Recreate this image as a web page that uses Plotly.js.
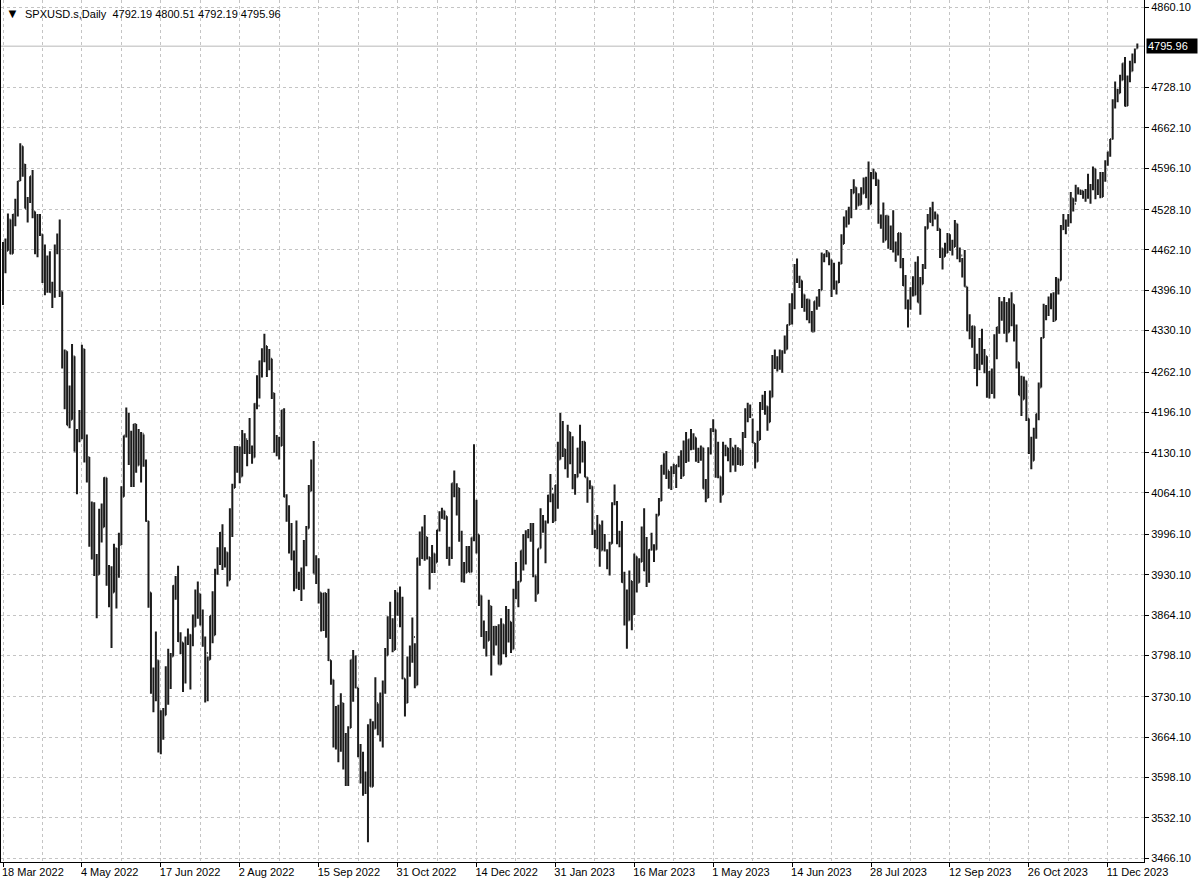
<!DOCTYPE html>
<html>
<head>
<meta charset="utf-8">
<script src="https://cdn.plot.ly/plotly-3.0.1.min.js"></script>
<style>html,body{margin:0;padding:0;background:#fff}#chart{width:1200px;height:888px}</style>
</head>
<body>
<div id="chart"></div>
<script>
// ---- calendar of the daily bars (weekdays, minus days with no session) ----
const firstDay = '2022-03-18';
const lastDay = '2023-12-28';
const closedDays = ['2022-04-15', '2022-12-26', '2023-01-02', '2023-12-25'];

// ---- OHLC values, one entry per bar, month by month ----
const open = [
// 2022-03
4407,4463,4461,4512,4456,4520,4543,4575,4632,4602,
// 2022-04
4530,4546,4583,4525,4481,4500,4488,4413,4397,4447,4393,4392,4463,4459,4394,4272,4296,4175,4184,4288,
// 2022-05
4132,4155,4175,4300,4147,4123,3991,4001,3935,3930,4024,4008,4089,3923,3901,3901,3974,3941,3979,4058,4158,4190,
// 2022-06
4132,4101,4177,4109,4121,4161,4116,4018,3901,3750,3735,3790,3667,3675,3700,3765,3760,3796,3912,3900,3821,3819,
// 2022-07
3785,3825,3832,3831,3845,3903,3899,3855,3819,3802,3791,3863,3831,3937,3960,3999,3962,3967,3921,4024,4072,
// 2022-08
4130,4119,4091,4155,4152,4145,4140,4122,4210,4207,4280,4297,4305,4275,4284,4228,4138,4128,4141,4200,4058,4031,3986,
// 2022-09
3955,3967,3924,3915,3908,3980,4006,4067,4110,3932,3946,3901,3873,3900,3856,3790,3758,3693,3655,3647,3720,3640,
// 2022-10
3586,3679,3791,3783,3745,3640,3612,3589,3577,3670,3583,3678,3720,3695,3666,3753,3798,3859,3831,3807,3901,
// 2022-11
3872,3856,3760,3720,3771,3807,3828,3749,3957,3993,3957,3992,3959,3947,3965,3950,4003,4027,4035,4026,3964,3958,
// 2022-12
4080,4077,4072,3999,3941,3933,3964,3934,3991,4019,3996,3896,3852,3818,3822,3879,3822,3845,3829,3783,3849,
// 2023-01
3840,3825,3853,3808,3895,3893,3919,3970,3983,3999,3998,3991,3929,3899,3973,4020,4017,4016,4060,4071,4018,
// 2023-02
4077,4119,4180,4136,4111,4164,4118,4082,4090,4137,4136,4148,4090,4079,4075,3997,3991,4012,3970,3982,
// 2023-03
3970,3951,3981,4046,4048,3986,3992,3918,3862,3855,3920,3892,3960,3917,3951,4003,3937,3949,3971,3977,3971,4027,4051,
// 2023-04
4109,4125,4101,4091,4105,4108,4110,4109,4092,4146,4138,4152,4154,4155,4130,4134,4138,4071,4056,4136,
// 2023-05
4169,4168,4120,4091,4061,4136,4138,4119,4138,4130,4124,4136,4110,4159,4198,4191,4192,4146,4115,4151,4205,4218,4206,
// 2023-06
4180,4221,4282,4273,4283,4268,4294,4299,4339,4369,4373,4426,4410,4412,4389,4366,4381,4348,4328,4378,4377,4396,
// 2023-07
4450,4455,4458,4446,4412,4399,4409,4439,4472,4510,4505,4522,4555,4565,4535,4536,4554,4567,4566,4537,4582,
// 2023-08
4589,4577,4513,4502,4478,4518,4499,4468,4469,4464,4490,4437,4404,4370,4370,4400,4388,4436,4376,4406,4433,4497,4515,
// 2023-09
4508,4516,4520,4497,4465,4451,4457,4488,4462,4467,4505,4450,4453,4444,4402,4330,4320,4337,4274,4274,4300,
// 2023-10
4288,4288,4229,4263,4258,4308,4336,4358,4376,4349,4327,4374,4373,4314,4278,4224,4217,4248,4186,4137,4117,4166,
// 2023-11
4194,4237,4318,4358,4366,4378,4383,4347,4415,4412,4496,4503,4508,4514,4547,4538,4557,4560,4559,4550,4554,4551,
// 2023-12
4568,4595,4569,4567,4549,4585,4604,4622,4644,4707,4719,4719,4740,4768,4698,4746,4755,4775,4792.19
];

const high = [
// 2022-03
4475,4481,4522,4512,4521,4546,4575,4637,4632,4603,
// 2022-04
4549,4583,4593,4525,4521,4521,4488,4471,4453,4460,4410,4471,4489,4512,4394,4299,4296,4240,4308,4288,
// 2022-05
4169,4200,4307,4300,4160,4123,4050,4049,3964,4038,4047,4090,4089,3946,3944,3981,3974,3999,4075,4158,4204,4195,
// 2022-06
4166,4177,4177,4169,4164,4160,4119,4018,3901,3778,3837,3790,3708,3712,3780,3809,3802,3913,3928,3945,3836,3819,
// 2022-07
3829,3842,3832,3865,3906,3919,3899,3873,3829,3796,3863,3903,3940,3975,4000,4013,3975,3967,4039,4079,4141,
// 2022-08
4141,4140,4167,4162,4151,4187,4142,4211,4257,4281,4301,4325,4305,4300,4284,4228,4159,4156,4200,4203,4062,4044,4015,
// 2022-09
3970,4019,3935,3942,3987,4010,4077,4119,4149,3962,3957,3901,3900,3900,3907,3790,3758,3715,3717,3736,3720,3671,
// 2022-10
3682,3791,3807,3798,3745,3653,3640,3608,3685,3694,3690,3762,3719,3737,3757,3810,3862,3886,3859,3905,3901,
// 2022-11
3911,3894,3760,3796,3814,3860,3818,3958,4001,4009,4028,3992,3959,3979,3965,4004,4034,4040,4035,4026,3976,4080,
// 2022-12
4101,4080,4072,4002,3951,3977,3977,3991,4144,4053,3996,3896,3855,3838,3889,3879,3846,3846,3849,3859,3849,
// 2023-01
3879,3874,3853,3907,3951,3920,3970,3997,4003,4005,4015,4015,3929,3973,4039,4028,4019,4061,4095,4063,4077,
// 2023-02
4148,4195,4182,4136,4176,4164,4157,4095,4138,4176,4149,4148,4090,4085,4075,4004,4028,4012,4019,3997,
// 2023-03
3972,3984,4049,4078,4051,4002,4018,3935,3906,3937,3920,3965,3960,3957,4009,4039,3992,3972,3999,3980,4030,4056,4110,
// 2023-04
4129,4133,4100,4108,4112,4110,4125,4134,4150,4164,4152,4169,4162,4155,4138,4142,4138,4087,4139,4170,
// 2023-05
4185,4168,4148,4091,4148,4143,4138,4154,4138,4143,4139,4135,4164,4203,4212,4209,4186,4146,4166,4213,4225,4231,4206,
// 2023-06
4232,4290,4299,4288,4299,4298,4322,4340,4375,4391,4439,4448,4420,4412,4389,4382,4381,4362,4378,4386,4398,4458,
// 2023-07
4456,4462,4458,4446,4441,4412,4443,4488,4517,4527,4533,4562,4578,4565,4555,4565,4581,4582,4607,4590,4595,
// 2023-08
4589,4577,4520,4540,4519,4518,4502,4527,4476,4490,4490,4449,4421,4381,4401,4419,4443,4452,4418,4439,4501,4521,4532,
// 2023-09
4541,4525,4520,4497,4465,4474,4490,4488,4479,4511,4505,4466,4449,4462,4402,4357,4338,4337,4292,4318,4333,
// 2023-10
4300,4288,4264,4268,4324,4336,4385,4378,4385,4377,4383,4393,4373,4340,4278,4256,4255,4248,4186,4156,4171,4194,
// 2023-11
4245,4319,4374,4372,4386,4391,4393,4418,4415,4503,4521,4512,4521,4557,4547,4569,4565,4560,4559,4562,4587,4570,
// 2023-12
4599,4595,4578,4590,4590,4609,4623,4644,4709,4738,4726,4749,4768,4778,4748,4772,4784,4792,4800.51
];

const low = [
// 2022-03
4372,4424,4461,4455,4456,4501,4517,4575,4582,4530,
// 2022-04
4507,4539,4514,4455,4450,4485,4408,4388,4392,4392,4367,4384,4455,4385,4268,4201,4175,4170,4184,4132,
// 2022-05
4062,4147,4152,4114,4081,3976,3955,3928,3859,3930,3983,4008,3912,3877,3810,3901,3875,3925,3979,4058,4155,4110,
// 2022-06
4074,4074,4097,4109,4081,4107,4017,3876,3735,3705,3723,3639,3636,3660,3700,3717,3743,3796,3889,3820,3800,3738,
// 2022-07
3752,3815,3742,3813,3845,3858,3847,3812,3721,3723,3791,3818,3831,3930,3946,3938,3942,3911,3921,3992,4072,
// 2022-08
4097,4080,4091,4128,4108,4128,4112,4122,4201,4219,4253,4278,4254,4265,4218,4130,4124,4119,4141,4057,4017,3965,3954,
// 2022-09
3903,3907,3905,3887,3906,3944,4006,4067,3932,3915,3883,3837,3838,3827,3789,3750,3647,3644,3623,3640,3611,3584,
// 2022-10
3584,3679,3722,3744,3631,3588,3568,3571,3492,3583,3583,3678,3667,3657,3647,3735,3798,3825,3803,3807,3863,
// 2022-11
3844,3759,3698,3720,3763,3786,3744,3749,3945,3956,3953,3955,3906,3933,3933,3950,4001,4022,4020,3956,3945,3956,
// 2022-12
4057,4027,3984,3918,3917,3933,3934,3934,3985,3965,3879,3828,3809,3796,3822,3765,3798,3814,3783,3783,3800,
// 2023-01
3795,3819,3802,3808,3890,3877,3919,3937,3947,3990,3984,3926,3886,3899,3973,3999,3949,4014,4049,4015,4018,
// 2023-02
4038,4119,4123,4103,4089,4111,4070,4061,4090,4096,4114,4090,4048,4070,3995,3974,3972,3943,3970,3968,
// 2023-03
3939,3929,3981,4044,3980,3975,3917,3847,3809,3855,3839,3864,3901,3917,3951,3936,3910,3917,3970,3951,3971,4027,4051,
// 2023-04
4094,4087,4071,4069,4095,4072,4106,4087,4092,4113,4115,4134,4135,4115,4113,4117,4071,4049,4056,4127,
// 2023-05
4164,4089,4088,4048,4061,4124,4116,4098,4109,4099,4110,4109,4110,4154,4180,4187,4146,4104,4115,4151,4200,4192,4166,
// 2023-06
4180,4221,4267,4263,4266,4261,4292,4299,4339,4340,4365,4408,4400,4367,4361,4347,4342,4328,4328,4364,4369,4396,
// 2023-07
4442,4450,4437,4385,4397,4389,4408,4439,4472,4499,4504,4514,4555,4528,4535,4536,4554,4547,4528,4537,4578,
// 2023-08
4567,4505,4497,4474,4478,4464,4462,4458,4443,4453,4432,4403,4365,4335,4364,4386,4388,4376,4356,4406,4431,4497,4507,
// 2023-09
4501,4512,4493,4449,4430,4451,4457,4461,4453,4467,4447,4442,4417,4402,4329,4316,4302,4267,4239,4265,4274,
// 2023-10
4260,4220,4219,4226,4219,4283,4325,4346,4325,4311,4327,4337,4312,4268,4224,4190,4217,4182,4128,4103,4117,4153,
// 2023-11
4183,4237,4318,4347,4354,4365,4344,4347,4389,4412,4495,4488,4500,4506,4525,4541,4553,4552,4546,4541,4546,4538,
// 2023-12
4560,4545,4552,4547,4549,4574,4600,4615,4643,4694,4704,4719,4740,4697,4698,4737,4755,4768,4792.19
];

const close = [
// 2022-03
4463,4461,4512,4456,4520,4543,4575,4632,4602,4530,
// 2022-04
4546,4583,4525,4481,4500,4488,4413,4397,4447,4393,4392,4463,4459,4394,4272,4296,4175,4184,4288,4132,
// 2022-05
4155,4175,4300,4147,4123,3991,4001,3935,3930,4024,4008,4089,3923,3901,3901,3974,3941,3979,4058,4158,4190,4132,
// 2022-06
4101,4177,4109,4121,4161,4116,4018,3901,3750,3735,3790,3667,3675,3700,3765,3760,3796,3912,3900,3821,3819,3785,
// 2022-07
3825,3832,3831,3845,3903,3899,3855,3819,3802,3791,3863,3831,3937,3960,3999,3962,3967,3921,4024,4072,4130,
// 2022-08
4119,4091,4155,4152,4145,4140,4122,4210,4207,4280,4297,4305,4275,4284,4228,4138,4128,4141,4200,4058,4031,3986,3955,
// 2022-09
3967,3924,3915,3908,3980,4006,4067,4110,3932,3946,3901,3873,3900,3856,3790,3758,3693,3655,3647,3720,3640,3586,
// 2022-10
3679,3791,3783,3745,3640,3612,3589,3577,3670,3583,3678,3720,3695,3666,3753,3798,3859,3831,3807,3901,3872,
// 2022-11
3856,3760,3720,3771,3807,3828,3749,3957,3993,3957,3992,3959,3947,3965,3950,4003,4027,4035,4026,3964,3958,4080,
// 2022-12
4077,4072,3999,3941,3933,3964,3934,3991,4019,3996,3896,3852,3818,3822,3879,3822,3845,3829,3783,3849,3840,
// 2023-01
3825,3853,3808,3895,3893,3919,3970,3983,3999,3998,3991,3929,3899,3973,4020,4017,4016,4060,4071,4018,4077,
// 2023-02
4119,4180,4136,4111,4164,4118,4082,4090,4137,4136,4148,4090,4079,4075,3997,3991,4012,3970,3982,3970,
// 2023-03
3951,3981,4046,4048,3986,3992,3918,3862,3855,3920,3892,3960,3917,3951,4003,3937,3949,3971,3977,3971,4027,4051,4109,
// 2023-04
4125,4101,4091,4105,4108,4110,4109,4092,4146,4138,4152,4154,4155,4130,4134,4138,4071,4056,4136,4169,
// 2023-05
4168,4120,4091,4061,4136,4138,4119,4138,4130,4124,4136,4110,4159,4198,4191,4192,4146,4115,4151,4205,4218,4206,4180,
// 2023-06
4221,4282,4273,4283,4268,4294,4299,4339,4369,4373,4426,4410,4412,4389,4366,4381,4348,4328,4378,4377,4396,4450,
// 2023-07
4455,4458,4446,4412,4399,4409,4439,4472,4510,4505,4522,4555,4565,4535,4536,4554,4567,4566,4537,4582,4589,
// 2023-08
4577,4513,4502,4478,4518,4499,4468,4469,4464,4490,4437,4404,4370,4370,4400,4388,4436,4376,4406,4433,4497,4515,4508,
// 2023-09
4516,4520,4497,4465,4451,4457,4488,4462,4467,4505,4450,4453,4444,4402,4330,4320,4337,4274,4274,4300,4288,
// 2023-10
4288,4229,4263,4258,4308,4336,4358,4376,4349,4327,4374,4373,4314,4278,4224,4217,4248,4186,4137,4117,4166,4194,
// 2023-11
4237,4318,4358,4366,4378,4383,4347,4415,4412,4496,4503,4508,4514,4547,4538,4557,4560,4559,4550,4554,4551,4568,
// 2023-12
4595,4569,4567,4549,4585,4604,4622,4644,4707,4719,4719,4740,4768,4698,4746,4755,4775,4790,4795.96
];

// ---- axis labels ----
const tickDates = ['2022-03-18','2022-05-04','2022-06-17','2022-08-02','2022-09-15','2022-10-31','2022-12-14',
  '2023-01-31','2023-03-16','2023-05-01','2023-06-14','2023-07-28','2023-09-12','2023-10-26','2023-12-11'];
const tickLabels = ['18 Mar 2022','4 May 2022','17 Jun 2022','2 Aug 2022','15 Sep 2022','31 Oct 2022','14 Dec 2022',
  '31 Jan 2023','16 Mar 2023','1 May 2023','14 Jun 2023','28 Jul 2023','12 Sep 2023','26 Oct 2023','11 Dec 2023'];
const priceTicks = [4860.10,4728.10,4662.10,4596.10,4528.10,4462.10,4396.10,4330.10,4262.10,4196.10,4130.10,
  4064.10,3996.10,3930.10,3864.10,3798.10,3730.10,3664.10,3598.10,3532.10,3466.10];
const symbolName = 'SPXUSD.s,Daily';

// ---- build the bar calendar ----
const dates = [];
{
  const d = new Date(firstDay + 'T00:00:00Z');
  const end = new Date(lastDay + 'T00:00:00Z');
  while (d <= end) {
    const wd = d.getUTCDay();
    const s = d.toISOString().slice(0, 10);
    if (wd !== 0 && wd !== 6 && closedDays.indexOf(s) < 0) dates.push(s);
    d.setUTCDate(d.getUTCDate() + 1);
  }
}
const barPos = dates.map((_, i) => i);
const tickPos = tickDates.map(t => dates.indexOf(t));
const midGrid = tickPos.slice(0, -1).map((p, k) => (p + tickPos[k + 1]) / 2);

const n = close.length;
const last = {o: open[n-1], h: high[n-1], l: low[n-1], c: close[n-1]};

const GRID = '#c4c4c4';
const DASH = '3px,3px';
const FONT = 'Liberation Sans, Arial, sans-serif';

const trace = {
  type: 'ohlc',
  x: barPos,
  open: open, high: high, low: low, close: close,
  text: dates,
  hoverinfo: 'text',
  increasing: {line: {color: '#1c1c1c', width: 2}},
  decreasing: {line: {color: '#1c1c1c', width: 2}},
  tickwidth: 0.35
};

const layout = {
  width: 1200, height: 888,
  margin: {l: 1, r: 56, t: 0, b: 26, pad: 0},
  paper_bgcolor: '#ffffff', plot_bgcolor: '#ffffff',
  showlegend: false,
  font: {family: FONT, size: 11, color: '#000000'},
  xaxis: {
    type: 'linear',
    range: [-0.81, 462.7],
    tickmode: 'array', tickvals: tickPos, ticktext: tickLabels,
    ticks: 'outside', ticklen: 4, tickcolor: '#000', tickwidth: 1,
    ticklabelposition: 'outside right', ticklabeloverflow: 'allow', ticklabelshift: -2,
    tickfont: {family: FONT, size: 11, color: '#000'},
    showgrid: true, gridcolor: GRID, griddash: DASH, gridwidth: 1,
    minor: {tickvals: midGrid, showgrid: true, gridcolor: GRID, griddash: DASH, gridwidth: 1, ticks: ''},
    showline: true, linecolor: '#000', linewidth: 1, mirror: false,
    zeroline: false, rangeslider: {visible: false}, fixedrange: true
  },
  yaxis: {
    side: 'right',
    range: [3459.55, 4871.57],
    tickmode: 'array', tickvals: priceTicks, ticktext: priceTicks.map(v => v.toFixed(2)),
    ticks: 'outside', ticklen: 4, tickcolor: '#000', tickwidth: 1,
    tickfont: {family: FONT, size: 11, color: '#000'},
    showgrid: true, gridcolor: GRID, griddash: DASH, gridwidth: 1,
    showline: true, linecolor: '#000', linewidth: 1, mirror: true,
    zeroline: false, fixedrange: true
  },
  shapes: [{
    type: 'line', xref: 'paper', x0: 0, x1: 1, yref: 'y', y0: last.c, y1: last.c,
    line: {color: '#b8b8b8', width: 1}, layer: 'below'
  }],
  annotations: [
    {
      xref: 'paper', yref: 'paper', x: 0, y: 1, xanchor: 'left', yanchor: 'top',
      xshift: 3, yshift: -4, showarrow: false,
      text: '<span style="font-size:13px">\u25BC</span>\u00a0\u00a0' + symbolName + '\u00a0\u00a0' +
        [last.o, last.h, last.l, last.c].map(v => v.toFixed(2)).join(' '),
      font: {family: FONT, size: 11, color: '#000'}
    },
    {
      xref: 'paper', yref: 'y', x: 1, y: last.c, xanchor: 'left', yanchor: 'middle',
      xshift: 2, showarrow: false, text: last.c.toFixed(2),
      bgcolor: '#000000', borderpad: 1, width: 48, align: 'left',
      font: {family: FONT, size: 11, color: '#ffffff'}
    }
  ]
};

Plotly.newPlot('chart', [trace], layout, {displayModeBar: false, staticPlot: true});
</script>
</body>
</html>
